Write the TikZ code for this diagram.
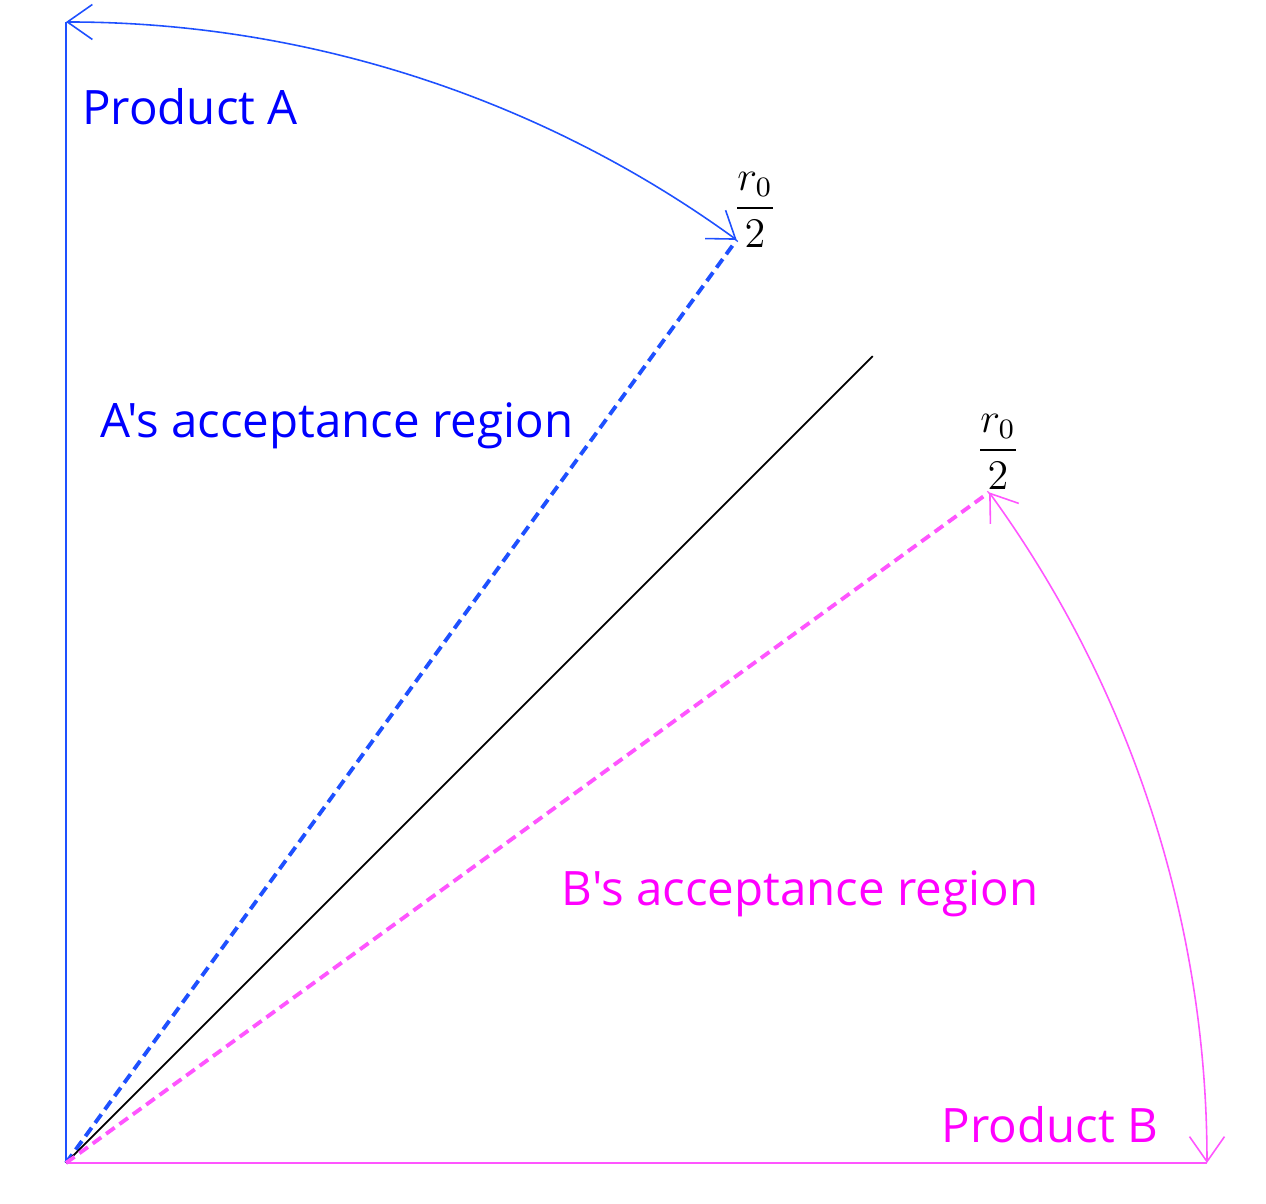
\documentclass[tikz,border=0pt]{standalone}
\usepackage{amsmath}
\usepackage{fontspec}
\usetikzlibrary{arrows.meta}
\newfontfamily\labelfont{Open Sans}
\definecolor{lineA}{RGB}{30,80,255}
\definecolor{textA}{RGB}{0,0,255}
\definecolor{lineB}{RGB}{255,85,255}
\definecolor{textB}{RGB}{255,0,255}

\begin{document}
\begin{tikzpicture}[
  lab/.style={font=\labelfont\fontsize{13.5}{16}\selectfont},
  sweep/.style={line width=0.45pt,{Straight Barb[length=2.5mm,width=3.5mm]}-{Straight Barb[length=2.5mm,width=3.5mm]}},
  bound/.style={line width=1.1pt, dash pattern=on 3pt off 1.7pt}
]
\useasboundingbox (-0.66,-0.41) rectangle (12.00,11.63);

\coordinate (o) at (0,0);
\coordinate (v1) at (0,11.41);
\coordinate (v2) at (11.41,0);
\coordinate (v3) at (54:11.41);
\coordinate (v4) at (45:11.41);
\coordinate (v5) at (36:11.41);

\draw [lineA, line width=0.6pt] (o) -- (v1);
\draw [lineB, line width=0.6pt] (o) -- (v2);
\draw [lineA, bound] (o) -- (v3);
\draw [black, line width=0.5pt] (o) -- (v4);
\draw [lineB, bound] (o) -- (v5);
\draw [lineA, sweep] (v1) arc[start angle=90, end angle=54, radius=11.41];
\draw [lineB, sweep] (v2) arc[start angle=0, end angle=36, radius=11.41];

\node [lab, textA] (pa) at (1.24,10.56) {Product A};
\node [lab, textA] (ra) at (2.71,7.37) {A's acceptance region};
\node [lab, textB] (rb) at (7.34,2.69) {B's acceptance region};
\node [lab, textB] (pb) at (9.84,0.38) {Product B};
\node [font=\large] (fa) at (6.89,9.53) {$\displaystyle\frac{r_0}{2}$};
\node [font=\large] (fb) at (9.32,7.11) {$\displaystyle\frac{r_0}{2}$};
\end{tikzpicture}
\end{document}
